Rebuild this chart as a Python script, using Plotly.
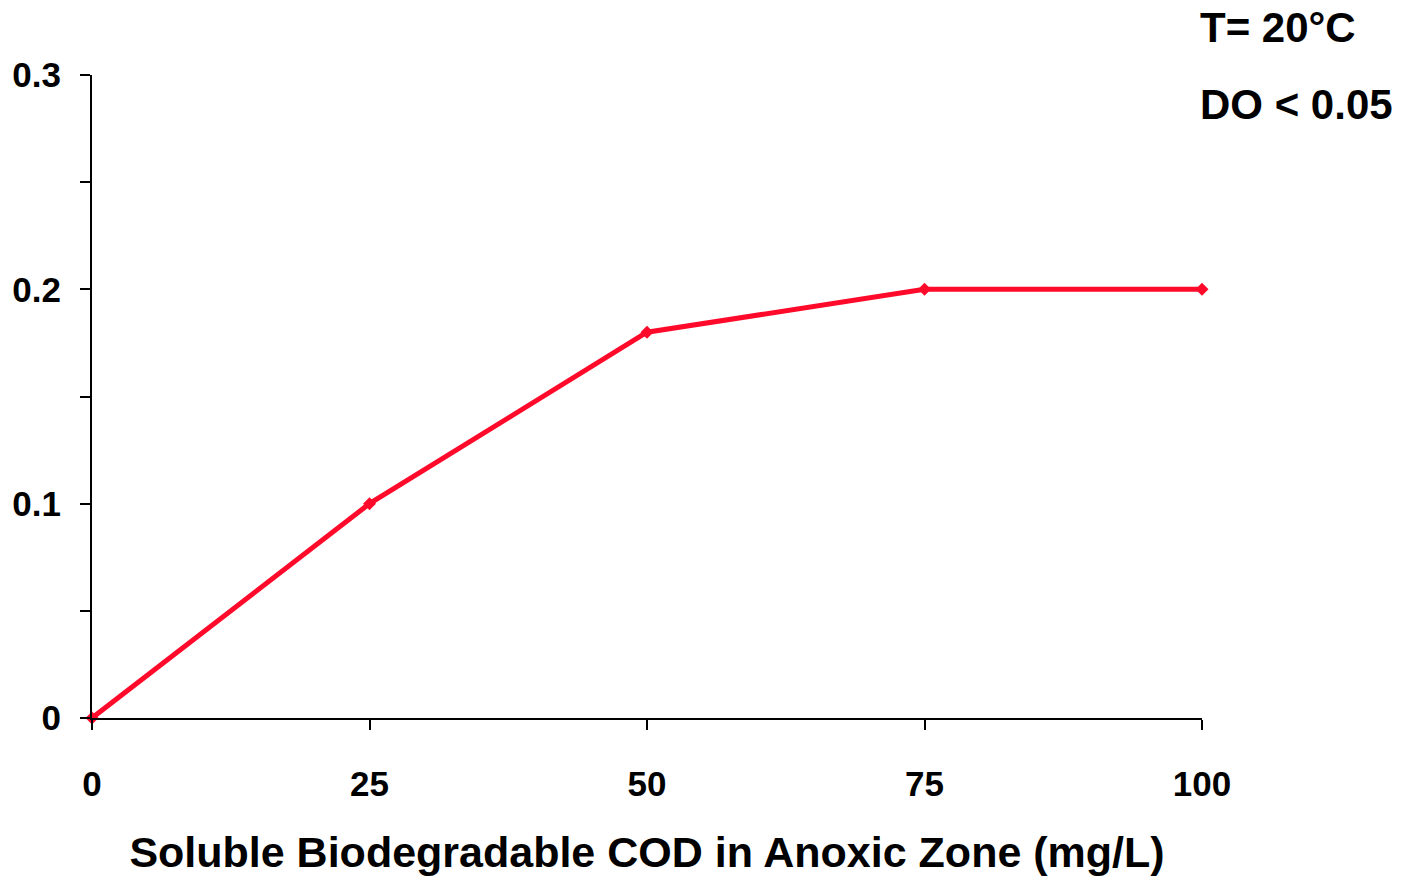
import plotly.graph_objects as go

cod = [0, 25, 50, 75, 100]
rate = [0, 0.1, 0.18, 0.2, 0.2]
x_ticks = [0, 25, 50, 75, 100]
y_ticks = [0, 0.1, 0.2, 0.3]
y_tick_labels = ["0", "0.1", "0.2", "0.3"]

FONT = "Liberation Sans, Arial, sans-serif"

fig = go.Figure()
fig.add_trace(go.Scatter(
    x=cod, y=rate, mode="lines+markers",
    line=dict(color="#FF0A2A", width=5),
    marker=dict(symbol="diamond", size=10, color="#FF0A2A"),
    cliponaxis=False, showlegend=False,
))

fig.update_layout(
    width=1403, height=876,
    margin=dict(l=92, r=201, t=75, b=158),
    paper_bgcolor="white", plot_bgcolor="white",
    font=dict(family=FONT, color="black"),
    xaxis=dict(
        range=[0, 100], tickvals=x_ticks, ticktext=[str(v) for v in x_ticks],
        showgrid=False, zeroline=False, automargin=False,
        showline=True, linecolor="black", linewidth=2,
        ticks="outside", ticklen=10, tickwidth=2, tickcolor="black",
        tickfont=dict(size=35, family=FONT, weight="bold"),
        ticklabelstandoff=24,
        title=dict(text="<b>Soluble Biodegradable COD in Anoxic Zone (mg/L)</b>",
                   font=dict(size=43, family=FONT), standoff=44),
    ),
    yaxis=dict(
        range=[0, 0.3], tickvals=y_ticks, ticktext=y_tick_labels,
        showgrid=False, zeroline=False, automargin=False,
        showline=True, linecolor="black", linewidth=2,
        ticks="outside", ticklen=10, tickwidth=2, tickcolor="black",
        tickfont=dict(size=35, family=FONT, weight="bold"),
        ticklabelstandoff=12,
        minor=dict(tickvals=[0.05, 0.15, 0.25], ticks="outside", ticklen=10,
                   tickwidth=2, tickcolor="black"),
    ),
    annotations=[
        dict(text="<b>T= 20°C</b>", xref="paper", yref="paper",
             x=1.0, y=1.0, xanchor="left", yanchor="middle", yshift=48,
             xshift=-4, showarrow=False, font=dict(size=42, family=FONT)),
        dict(text="<b>DO < 0.05</b>", xref="paper", yref="paper",
             x=1.0, y=1.0, xanchor="left", yanchor="middle", yshift=-29,
             xshift=-4, showarrow=False, font=dict(size=42, family=FONT)),
    ],
)

fig.write_html("out.html")
